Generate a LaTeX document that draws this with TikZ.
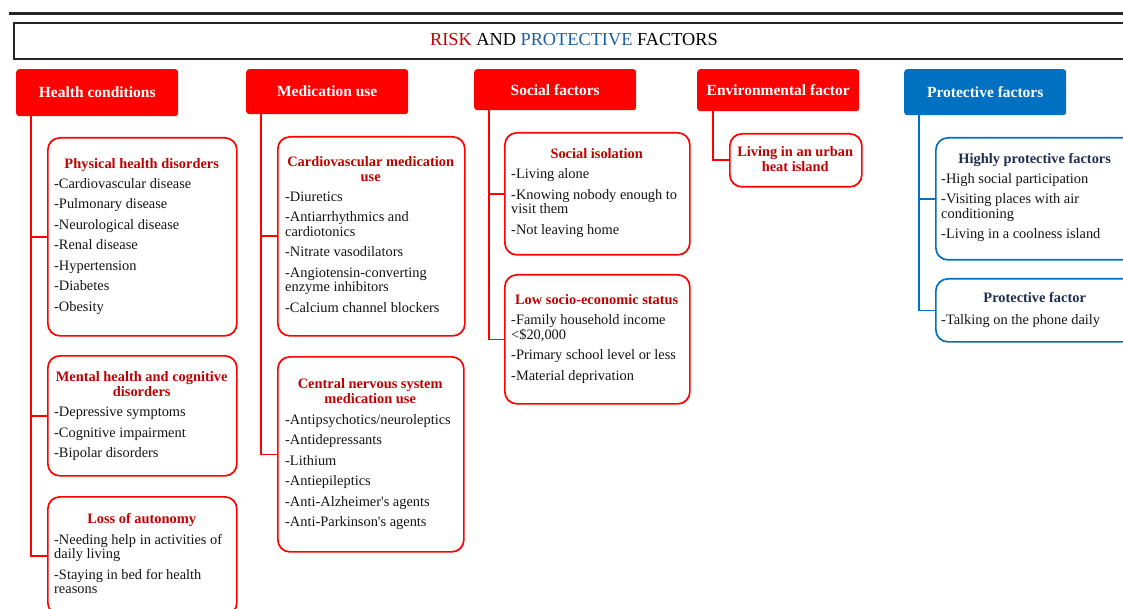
\documentclass[tikz,border=0pt]{standalone}
\usepackage{fontspec}
\setmainfont{Liberation Serif}
\usetikzlibrary{positioning}

\definecolor{hdred}{HTML}{FF0000}
\definecolor{hdblue}{HTML}{0070C0}
\definecolor{ttlred}{HTML}{C00000}
\definecolor{ttlblue}{HTML}{1F2D50}
\definecolor{riskred}{HTML}{C00000}
\definecolor{protblue}{HTML}{1F5F9F}
\definecolor{bodytxt}{HTML}{141414}

% centred box titles
\newcommand{\rtitle}[1]{\makebox[\linewidth]{\bfseries\color{ttlred}#1}}
\newcommand{\btitle}[1]{\makebox[\linewidth]{\bfseries\color{ttlblue}#1}}

\begin{document}
\begin{tikzpicture}[x=1pt, y=-1pt,
      header/.style = {shape=rectangle, rounded corners=3pt,
        fill=hdred, text=white, anchor=north west, inner sep=0pt,
        minimum width=162pt,
        font=\fontsize{15.5}{17}\selectfont\bfseries
      },
      riskbox/.style = {shape=rectangle, rounded corners=12pt,
        draw=hdred, line width=1.7pt, fill=white, anchor=north west
      },
      protbox/.style = {riskbox, draw=hdblue},
      boxtext/.style = {anchor=base west, inner sep=0pt, align=flush left,
        text=bodytxt, font=\fontsize{14.4}{14.5}\selectfont
      },
      redline/.style = {draw=hdred, line width=1.7pt},
      blueline/.style = {draw=hdblue, line width=1.7pt}
    ]
    \useasboundingbox (0,0) rectangle (1123,609);
    \clip (0,0) rectangle (1123,609);

    % title
    \draw[line width=3pt, black!85] (8.6,13.5) -- (1123,13.5);
    \node[draw=black!85, line width=1.8pt, anchor=north west,
      minimum width=1120pt, minimum height=36pt, inner sep=0pt,
      font=\fontsize{18.3}{20}\selectfont] (title) at (13,22)
      {\raisebox{2pt}{{\color{riskred}RISK} AND {\color{protblue}PROTECTIVE} FACTORS}};

    % headers
    \node[header, minimum height=47pt] (hc) at (16,69) {Health conditions};
    \node[header, minimum height=45pt] (mu) at (246,69) {Medication use};
    \node[header, minimum height=41pt] (sf) at (474,69) {Social factors};
    \node[header, minimum height=42pt] (ef) at (697,69) {Environmental factor};
    \node[header, minimum height=46pt, fill=hdblue] (pf) at (904,69) {Protective factors};

    % health conditions
    \node[riskbox, minimum width=189pt, minimum height=198pt] (phys) at (47,137) {};
    \node[boxtext, text width=175pt] (physT) at (54,168.5) {%
      \rtitle{Physical health disorders}\\[5.5pt]
      -Cardiovascular disease\\[6pt]
      -Pulmonary disease\\[6pt]
      -Neurological disease\\[6pt]
      -Renal disease\\[6pt]
      -Hypertension\\[6pt]
      -Diabetes\\[6pt]
      -Obesity};
    \node[riskbox, minimum width=189pt, minimum height=120pt] (ment) at (47,355) {};
    \node[boxtext, text width=175pt] (mentT) at (54,381.5) {%
      \rtitle{Mental health and cognitive}\\[0.5pt]
      \rtitle{disorders}\\[5.5pt]
      -Depressive symptoms\\[6pt]
      -Cognitive impairment\\[6pt]
      -Bipolar disorders};
    \node[riskbox, minimum width=189pt, minimum height=118pt] (auto) at (47,496) {};
    \node[boxtext, text width=175pt] (autoT) at (54,523.5) {%
      \rtitle{Loss of autonomy}\\[6pt]
      -Needing help in activities of\\
      daily living\\[6pt]
      -Staying in bed for health\\
      reasons};

    % medication use
    \node[riskbox, minimum width=187pt, minimum height=199pt] (cardio) at (277,136) {};
    \node[boxtext, text width=171pt] (cardioT) at (285,166.5) {%
      \rtitle{Cardiovascular medication}\\[0.5pt]
      \rtitle{use}\\[6pt]
      -Diuretics\\[5.5pt]
      -Antiarrhythmics and\\
      cardiotonics\\[6pt]
      -Nitrate vasodilators\\[6pt]
      -Angiotensin-converting\\
      enzyme inhibitors\\[6pt]
      -Calcium channel blockers};
    \node[riskbox, minimum width=186pt, minimum height=195pt] (cns) at (277,356) {};
    \node[boxtext, text width=170pt] (cnsT) at (285,388.5) {%
      \rtitle{Central nervous system}\\[0.5pt]
      \rtitle{medication use}\\[6pt]
      -Antipsychotics/neuroleptics\\[6pt]
      -Antidepressants\\[6pt]
      -Lithium\\[6pt]
      -Antiepileptics\\[6pt]
      -Anti-Alzheimer\textquotesingle s agents\\[6pt]
      -Anti-Parkinson\textquotesingle s agents};

    % social factors
    \node[riskbox, minimum width=185pt, minimum height=122pt] (isol) at (504,132) {};
    \node[boxtext, text width=171pt] (isolT) at (511,158.5) {%
      \rtitle{Social isolation}\\[6pt]
      -Living alone\\[6pt]
      -Knowing nobody enough to\\
      visit them\\[6pt]
      -Not leaving home};
    \node[riskbox, minimum width=185pt, minimum height=129pt] (ses) at (504,274) {};
    \node[boxtext, text width=171pt] (sesT) at (511,304.5) {%
      \rtitle{Low socio-economic status}\\[6pt]
      -Family household income\\
      \textless\$20,000\\[5.5pt]
      -Primary school level or less\\[6pt]
      -Material deprivation};

    % environmental factor
    \node[riskbox, minimum width=132pt, minimum height=53pt] (urban) at (729,133) {};
    \node[boxtext, text width=118pt] (urbanT) at (736,156.5) {%
      \rtitle{Living in an urban}\\[0.5pt]
      \rtitle{heat island}};

    % protective factors
    \node[protbox, minimum width=200pt, minimum height=122pt] (high) at (935,137) {};
    \node[boxtext, text width=187pt] (highT) at (941,163.5) {%
      \btitle{Highly protective factors}\\[5.5pt]
      -High social participation\\[6pt]
      -Visiting places with air\\
      conditioning\\[6pt]
      -Living in a coolness island};
    \node[protbox, minimum width=200pt, minimum height=63pt] (prot) at (935,278) {};
    \node[boxtext, text width=187pt] (protT) at (941,302.5) {%
      \btitle{Protective factor}\\[7.5pt]
      -Talking on the phone daily};

    % connectors
    \coordinate (hcstem) at ([xshift=15pt]hc.south west);
    \coordinate (mustem) at ([xshift=15pt]mu.south west);
    \coordinate (sfstem) at ([xshift=15pt]sf.south west);
    \coordinate (efstem) at ([xshift=16pt]ef.south west);
    \coordinate (pfstem) at ([xshift=15pt]pf.south west);
    \foreach \sub in {phys, ment, auto}
      \draw[redline] (hcstem) |- (\sub.west);
    \foreach \sub in {cardio, cns}
      \draw[redline] (mustem) |- (\sub.west);
    \foreach \sub in {isol, ses}
      \draw[redline] (sfstem) |- (\sub.west);
    \draw[redline] (efstem) |- (urban.west);
    \foreach \sub in {high, prot}
      \draw[blueline] (pfstem) |- (\sub.west);
\end{tikzpicture}
\end{document}
